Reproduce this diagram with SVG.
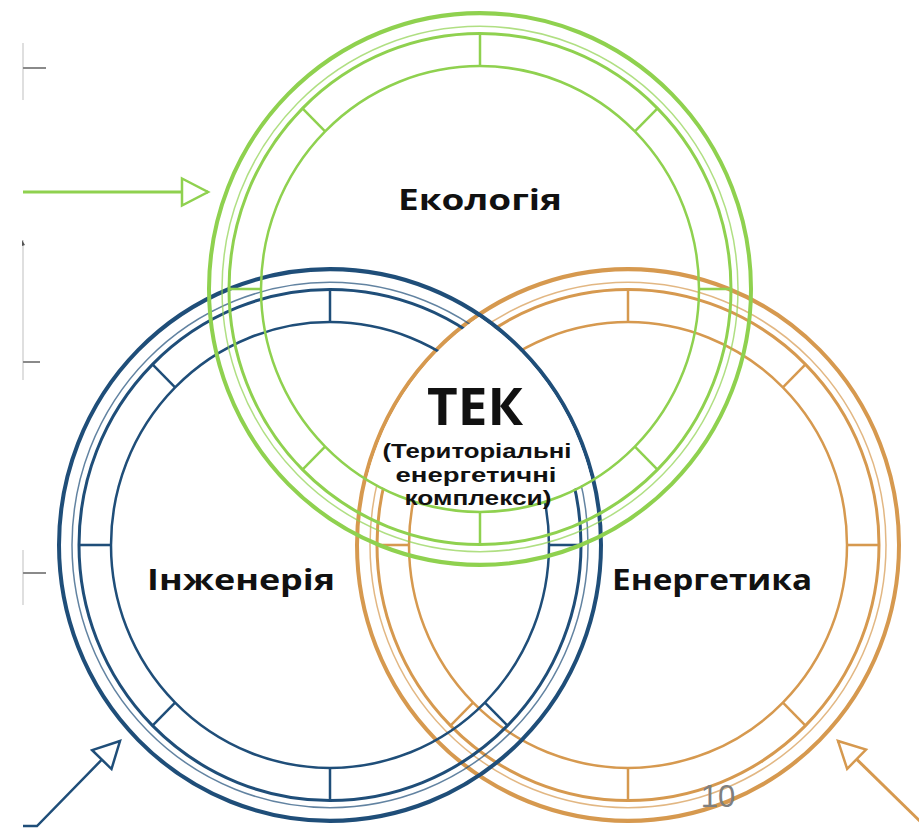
<svg xmlns="http://www.w3.org/2000/svg" xmlns:xlink="http://www.w3.org/1999/xlink" width="919" height="830" viewBox="0 0 919 830">
<style>
.ring circle{fill:none;stroke:currentColor}
.ring line{stroke:currentColor;stroke-width:2.5}
.lbl{font-family:"Open Sans","Liberation Sans",sans-serif;font-weight:700;fill:#111;text-anchor:middle}
.sub{font-family:"Liberation Sans","Open Sans",sans-serif;font-weight:700;fill:#111;text-anchor:middle;font-size:19.5px}
.edge{stroke:#d4d4d4;stroke-width:1.5;fill:none}
.tick{stroke:#8a8a8a;stroke-width:2}
</style>
<defs>
<g id="ring" class="ring">
<circle r="271" stroke-width="4"/>
<circle r="258" stroke-width="1.5" stroke-opacity="0.7"/>
<circle r="251" stroke-width="3"/>
<circle r="219" stroke-width="2.5"/>
<line x1="219" y1="0" x2="251" y2="0"/>
<line x1="-219" y1="0" x2="-251" y2="0"/>
<line x1="0" y1="219" x2="0" y2="251"/>
<line x1="0" y1="-219" x2="0" y2="-251"/>
<line x1="154.9" y1="154.9" x2="177.5" y2="177.5"/>
<line x1="-154.9" y1="154.9" x2="-177.5" y2="177.5"/>
<line x1="154.9" y1="-154.9" x2="177.5" y2="-177.5"/>
<line x1="-154.9" y1="-154.9" x2="-177.5" y2="-177.5"/>
</g>
<clipPath id="clipBlue"><ellipse cx="330" cy="545" rx="269" ry="274"/></clipPath>
<clipPath id="clipOrange"><ellipse cx="628" cy="545" rx="269" ry="274"/></clipPath>
<marker id="headG" markerUnits="userSpaceOnUse" markerWidth="32" markerHeight="34" viewBox="-3 -17 32 34" refX="26" refY="0" orient="auto">
<path d="M0,-13.5 L26,0 L0,13.5 Z" fill="#fff" stroke="#8fd14f" stroke-width="2.5"/>
</marker>
<marker id="headB" markerUnits="userSpaceOnUse" markerWidth="32" markerHeight="34" viewBox="-3 -17 32 34" refX="26" refY="0" orient="auto">
<path d="M0,-13.5 L26,0 L0,13.5 Z" fill="#fff" stroke="#1f4e79" stroke-width="2.5"/>
</marker>
<marker id="headO" markerUnits="userSpaceOnUse" markerWidth="32" markerHeight="34" viewBox="-3 -17 32 34" refX="26" refY="0" orient="auto">
<path d="M0,-13.5 L26,0 L0,13.5 Z" fill="#fff" stroke="#d6994f" stroke-width="2.5"/>
</marker>
</defs>
<rect width="919" height="830" fill="#fff"/>
<g id="page-edge">
<line class="edge" x1="23" y1="43" x2="23" y2="100"/>
<line class="edge" x1="23" y1="240" x2="23" y2="380"/>
<line class="edge" x1="23" y1="550" x2="23" y2="605"/>
<line class="tick" x1="23" y1="68" x2="46" y2="68"/>
<line class="tick" x1="23" y1="362" x2="40" y2="362"/>
<line class="tick" x1="23" y1="573" x2="46" y2="573"/>
<path d="M22,240 L25,245 L22,246 Z" fill="#555"/>
</g>
<g id="node-energy">
<use xlink:href="#ring" href="#ring" transform="translate(628,545) scale(1,1.018)" style="color:#d6994f"/>
</g>
<g id="node-engineering">
<use xlink:href="#ring" href="#ring" transform="translate(330,545) scale(1,1.018)" style="color:#1f4e79"/>
</g>
<g id="lens" clip-path="url(#clipBlue)">
<g clip-path="url(#clipOrange)">
<ellipse cx="480" cy="289" rx="218" ry="222" fill="#fff"/>
</g>
</g>
<g id="node-ecology">
<use xlink:href="#ring" href="#ring" transform="translate(480,289) scale(1,1.018)" style="color:#8fd14f"/>
</g>
<g id="connectors" fill="none">
<line x1="23" y1="192" x2="208" y2="192" stroke="#8fd14f" stroke-width="3" marker-end="url(#headG)"/>
<polyline points="23,826 37,826 120,741" stroke="#1f4e79" stroke-width="2.5" marker-end="url(#headB)"/>
<polyline points="930,831 838,741" stroke="#d6994f" stroke-width="3" marker-end="url(#headO)"/>
</g>
<g id="labels">
<text class="lbl" x="480" y="210" font-size="28" textLength="164" lengthAdjust="spacingAndGlyphs">Екологія</text>
<text class="lbl" x="241" y="590" font-size="28" textLength="188" lengthAdjust="spacingAndGlyphs">Інженерія</text>
<text class="lbl" x="712" y="590" font-size="28" textLength="200" lengthAdjust="spacingAndGlyphs">Енергетика</text>
</g>
<g id="node-tek">
<text class="lbl" x="475" y="425" font-size="52" textLength="96" lengthAdjust="spacingAndGlyphs">ТЕК</text>
<text class="sub" x="477" y="458" textLength="189" lengthAdjust="spacingAndGlyphs">(Територіальні</text>
<text class="sub" x="476" y="482" textLength="161" lengthAdjust="spacingAndGlyphs">енергетичні</text>
<text class="sub" x="478" y="505" textLength="147" lengthAdjust="spacingAndGlyphs">комплекси)</text>
</g>
<g id="page-number">
<text x="718" y="807" font-family="'Liberation Sans','Open Sans',sans-serif" font-size="31" fill="#7f7f7f" text-anchor="middle">10</text>
</g>
</svg>
